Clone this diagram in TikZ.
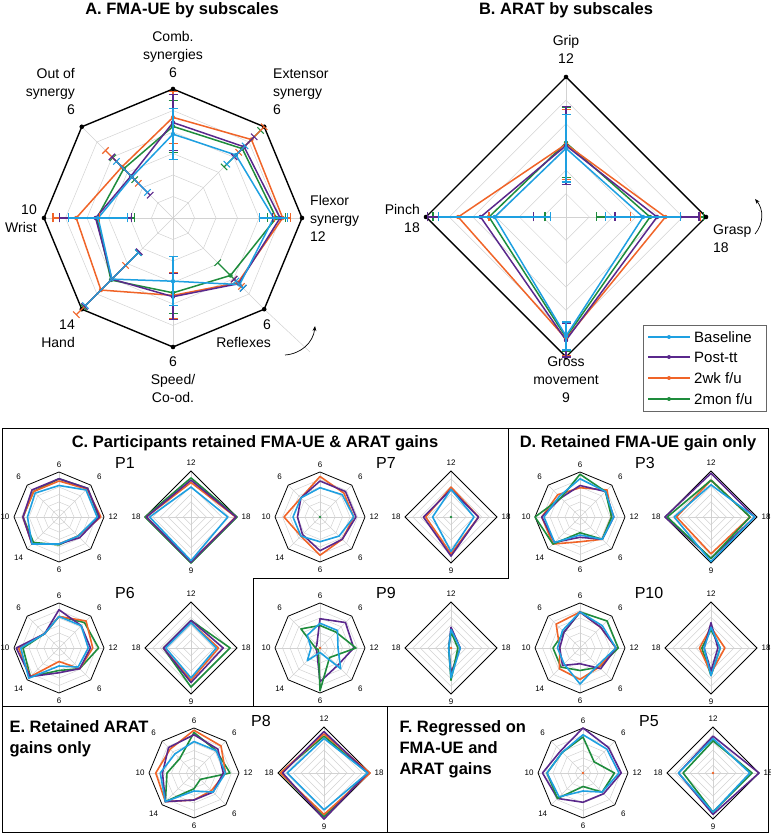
\documentclass[tikz,border=0pt]{standalone}
\usepackage{fontspec}
\setmainfont{Liberation Sans}
\usetikzlibrary{arrows.meta}
\definecolor{cB}{RGB}{30,160,225}
\definecolor{cP}{RGB}{90,40,140}
\definecolor{cO}{RGB}{240,100,40}
\definecolor{cG}{RGB}{30,140,60}
\tikzset{
  grid/.style={gray!35,line width=0.5pt},
  frame/.style={black,line width=0.8pt},
  series/.style={line width=1.5pt,line join=round},
  ttl/.style={font=\bfseries\fontsize{16.5}{21}\selectfont},
  lab/.style={font=\fontsize{14}{18}\selectfont,inner sep=0pt},
  sm/.style={font=\fontsize{8}{9}\selectfont,inner sep=0pt},
  pl/.style={font=\fontsize{16}{18}\selectfont,inner sep=0pt},
  box/.style={black,line width=0.8pt},
}
\newcommand\octpoly[5]{%
 \begin{scope}[shift={(#1,834-#2)}]
 \foreach \v [count=\i] in {#5}{\coordinate (q\i) at ({90-45*(\i-1)}:{\v*#3});}
 \draw[#4] (q1)--(q2)--(q3)--(q4)--(q5)--(q6)--(q7)--(q8)--cycle;
 \end{scope}}
\newcommand\diapoly[5]{%
 \begin{scope}[shift={(#1,834-#2)}]
 \foreach \v [count=\i] in {#5}{\coordinate (q\i) at ({90-90*(\i-1)}:{\v*#3});}
 \draw[#4] (q1)--(q2)--(q3)--(q4)--cycle;
 \end{scope}}
\newcommand\octgrid[4]{%
 \begin{scope}[shift={(#1,834-#2)}]
 \foreach \a in {0,45,...,315}{\draw[grid] (0,0)--(\a:#3);}
 \foreach \k in {1,...,5}{\draw[grid] (90:{#3*\k/6}) \foreach \a in {45,0,-45,-90,-135,180,135}{--(\a:{#3*\k/6})} --cycle;}
 \draw[black,line width=#4] (90:#3) \foreach \a in {45,0,-45,-90,-135,180,135}{--(\a:#3)} --cycle;
 \end{scope}}
\newcommand\diagrid[4]{%
 \begin{scope}[shift={(#1,834-#2)}]
 \foreach \a in {0,90,180,270}{\draw[grid] (0,0)--(\a:#3);}
 \foreach \k in {1,...,5}{\draw[grid] (90:{#3*\k/6})--(0:{#3*\k/6})--(-90:{#3*\k/6})--(180:{#3*\k/6})--cycle;}
 \draw[black,line width=#4] (90:#3)--(0:#3)--(-90:#3)--(180:#3)--cycle;
 \end{scope}}
\newcommand\octlab[3]{%
 \begin{scope}[shift={(#1,834-#2)}]
 \node[sm] (#3a) at (90:52) {6};
 \node[sm] (#3b) at (45:57) {6};
 \node[sm] (#3c) at (0:54) {12};
 \node[sm] (#3d) at (-45:57) {6};
 \node[sm] (#3e) at (-90:53) {6};
 \node[sm] (#3f) at (-135:57) {14};
 \node[sm] (#3g) at (180:54) {10};
 \node[sm] (#3h) at (135:57) {6};
 \end{scope}}
\newcommand\dialab[3]{%
 \begin{scope}[shift={(#1,834-#2)}]
 \node[sm] (#3a) at (90:54) {12};
 \node[sm] (#3b) at (0:55) {18};
 \node[sm] (#3c) at (-90:54) {9};
 \node[sm] (#3d) at (180:55) {18};
 \end{scope}}
\newcommand\ebar[7]{%
 \begin{scope}[shift={(#1,834-#2)}]
 \draw[#7,line width=1.1pt] (#4:{(#5-#6)*#3})--(#4:{(#5+#6)*#3});
 \draw[#7,line width=1.1pt] ([shift={(#4+90:4.5)}]#4:{(#5-#6)*#3})--([shift={(#4-90:4.5)}]#4:{(#5-#6)*#3});
 \draw[#7,line width=1.1pt] ([shift={(#4+90:4.5)}]#4:{(#5+#6)*#3})--([shift={(#4-90:4.5)}]#4:{(#5+#6)*#3});
 \end{scope}}
\newcommand\mdots[5]{%
 \begin{scope}[shift={(#1,834-#2)}]
 \foreach \v [count=\i] in {#5}{\fill[#4] ({90-#3*(\i-1)}:{\v*\Rr}) circle (2.2);}
 \end{scope}}
\begin{document}
\begin{tikzpicture}[x=1pt,y=1pt]
\useasboundingbox (0,0) rectangle (770,834);
% ---------------- A ----------------
\node[ttl] (tA) at (182,824) {A. FMA-UE by subscales};
\octgrid{173}{218}{129}{1.4pt}
\draw[grid] (173+91,834-309)--(310,834-352);
\begin{scope}[shift={(173,834-218)}]
\foreach \a in {0,45,...,315}{\fill (\a:129) circle (2.3);}
\end{scope}
\def\Rr{129}
\octpoly{173}{218}{129}{series,cG}{.71,.76,.80,.63,.58,.68,.59,.54}
\octpoly{173}{218}{129}{series,cO}{.78,.86,.85,.71,.60,.79,.75,.56}
\octpoly{173}{218}{129}{series,cP}{.74,.78,.83,.72,.61,.67,.60,.46}
\octpoly{173}{218}{129}{series,cB}{.65,.69,.78,.73,.49,.67,.58,.45}
\mdots{173}{218}{45}{cG}{.71,.76,.80,.63,.58,.68,.59,.54}
\mdots{173}{218}{45}{cO}{.78,.86,.85,.71,.60,.79,.75,.56}
\mdots{173}{218}{45}{cP}{.74,.78,.83,.72,.61,.67,.60,.46}
\mdots{173}{218}{45}{cB}{.65,.69,.78,.73,.49,.67,.58,.45}
\foreach \a/\v/\e/\c in {
 90/.71/.2/cG, 90/.78/.2/cO, 90/.74/.22/cP, 90/.65/.2/cB,
 45/.76/.2/cG, 45/.86/.14/cO, 45/.78/.11/cP, 45/.69/.1/cB,
 0/.80/.07/cG, 0/.85/.06/cO, 0/.83/.06/cP, 0/.78/.11/cB,
 -45/.63/.14/cG, -45/.71/.04/cO, -45/.72/.05/cP, -45/.73/.04/cB,
 -90/.58/.16/cG, -90/.60/.18/cO, -90/.61/.18/cP, -90/.49/.19/cB,
 -135/.68/.3/cG, -135/.79/.27/cO, -135/.67/.3/cP, -135/.67/.29/cB,
 180/.59/.29/cG, 180/.75/.18/cO, 180/.60/.28/cP, 180/.58/.23/cB,
 135/.54/.12/cG, 135/.56/.18/cO, 135/.46/.21/cP, 135/.45/.17/cB}
 {\ebar{173}{218}{129}{\a}{\v}{\e}{\c}}
\node[lab,align=center] (aComb) at (173,834-55) {Comb.\\synergies\\6};
\node[lab,align=left,anchor=west] (aExt) at (273,834-92) {Extensor\\synergy\\6};
\node[lab,align=right,anchor=east] (aOut) at (75,834-92) {Out of\\synergy\\6};
\node[lab,align=left,anchor=west] (aFlex) at (310,834-218) {Flexor\\synergy\\12};
\node[lab,align=right,anchor=east] (aWr) at (37,834-219) {10\\Wrist};
\node[lab,align=right,anchor=east] (aHa) at (75,834-334) {14\\Hand};
\node[lab,align=right,anchor=east] (aRe) at (271,834-334) {6\\Reflexes};
\node[lab,align=center] (aSp) at (173,834-380) {6\\Speed/\\Co-od.};
\coordinate (arA1) at (285,834-355);
\coordinate (arA2) at (315,834-326);
\draw[-{Stealth[length=5pt]},line width=0.7pt] (arA1) to[bend right=40] (arA2);
% ---------------- B ----------------
\node[ttl] (tB) at (566,824) {B. ARAT by subscales};
\diagrid{566}{217}{140}{1.4pt}
\begin{scope}[shift={(566,834-217)}]
\foreach \a in {0,90,180,270}{\fill (\a:140) circle (2.3);}
\end{scope}
\def\Rr{140}
\diapoly{566}{217}{140}{series,cG}{.53,.60,.86,.55}
\diapoly{566}{217}{140}{series,cO}{.52,.71,.87,.77}
\diapoly{566}{217}{140}{series,cP}{.51,.65,.88,.61}
\diapoly{566}{217}{140}{series,cB}{.49,.55,.85,.51}
\mdots{566}{217}{90}{cG}{.53,.60,.86,.55}
\mdots{566}{217}{90}{cO}{.52,.71,.87,.77}
\mdots{566}{217}{90}{cP}{.51,.65,.88,.61}
\mdots{566}{217}{90}{cB}{.49,.55,.85,.51}
\foreach \a/\v/\e/\c in {
 90/.53/.25/cG, 90/.52/.25/cO, 90/.51/.28/cP, 90/.49/.24/cB,
 0/.60/.38/cG, 0/.71/.25/cO, 0/.65/.3/cP, 0/.55/.27/cB,
 -90/.86/.1/cG, -90/.87/.12/cO, -90/.88/.12/cP, -90/.85/.1/cB,
 180/.55/.4/cG, 180/.77/.22/cO, 180/.61/.38/cP, 180/.51/.4/cB}
 {\ebar{566}{217}{140}{\a}{\v}{\e}{\c}}
\node[lab,align=center] (bGrip) at (566,834-49) {Grip\\12};
\node[lab,align=left,anchor=west] (bGr) at (713,834-239) {Grasp\\18};
\node[lab,align=right,anchor=east] (bPi) at (420,834-219) {Pinch\\18};
\node[lab,align=center] (bGm) at (566,834-380) {Gross\\movement\\9};
\coordinate (arB1) at (755,834-234);
\coordinate (arB2) at (755,834-199);
\draw[-{Stealth[length=5pt]},line width=0.7pt] (arB1) to[bend right=40] (arB2);
\draw[line width=0.8pt,draw=gray!80!black,fill=white] (643,834-325) rectangle (766,834-411);
\foreach \y/\c/\t [count=\i] in {337/cB/{Baseline},357/cP/{Post-tt},378/cO/{2wk f/u},399/cG/{2mon f/u}}{
 \draw[\c,line width=1.2pt] (648,834-\y)--(690,834-\y);
 \fill[\c] (669,834-\y) circle (2);
 \node[anchor=west,inner sep=0pt,font=\fontsize{15}{16}\selectfont] (lg\i) at (694,834-\y) {\t};}
% ---------------- lower frames ----------------
\draw[box] (2,834-428) rectangle (768,834-832);
\draw[box] (508,834-428)--(508,834-578)--(253,834-578)--(253,834-706);
\draw[box] (2,834-706)--(768,834-706);
\draw[box] (387,834-706)--(387,834-832);
\node[ttl] (tC) at (255,834-443) {C. Participants retained FMA-UE \& ARAT gains};
\node[ttl] (tD) at (638,834-443) {D. Retained FMA-UE gain only};
\node[ttl,align=left,anchor=north west] (tE) at (6,834-717) {E. Retained ARAT\\gains only};
\node[ttl,align=left,anchor=north west] (tF) at (396,834-717) {F. Regressed on\\FMA-UE and\\ARAT gains};
\foreach \n/\x/\y in {P1/125/463,P7/386/463,P3/645/463,P6/125/593,P9/386/593,P10/649/593,P8/261/721,P5/649/721}
 {\node[pl] (lab\n) at (\x,834-\y) {\n};}
\foreach \x/\y/\nm in {59/517/g1,320/517/g2,580/517/g3,59/648/g4,320/648/g5,580/648/g6,194/773/g7,583/773/g8}
 {\octgrid{\x}{\y}{45}{0.8pt}\octlab{\x}{\y}{\nm}}
\foreach \x/\y/\nm in {191/517/h1,451/517/h2,711/517/h3,191/648/h4,451/648/h5,711/648/h6,324/773/h7,713/773/h8}
 {\diagrid{\x}{\y}{46}{0.8pt}\dialab{\x}{\y}{\nm}}
\tikzset{s/.style={line width=1.6pt,line join=round}}
% P1
\octpoly{59}{517}{45}{s,cG}{.85,.9,.88,.6,.62,.8,.8,.8}
\octpoly{59}{517}{45}{s,cO}{.8,.88,.93,.6,.6,.85,.8,.8}
\octpoly{59}{517}{45}{s,cP}{.85,.9,.9,.65,.6,.85,.8,.85}
\octpoly{59}{517}{45}{s,cB}{.7,.85,.85,.6,.6,.85,.7,.75}
\diapoly{191}{517}{46}{s,cG}{.85,1,1,1}
\diapoly{191}{517}{46}{s,cO}{.75,.97,.97,.97}
\diapoly{191}{517}{46}{s,cP}{.8,.98,.98,.97}
\diapoly{191}{517}{46}{s,cB}{.65,.8,.95,.9}
% P7
\octpoly{320}{517}{45}{s,cO}{.9,.75,.75,.7,.85,.6,.8,.6}
\octpoly{320}{517}{45}{s,cP}{.8,.8,.8,.7,.75,.55,.5,.6}
\octpoly{320}{517}{45}{s,cB}{.65,.7,.75,.6,.55,.6,.6,.6}
\fill[cG] (320,834-517) circle (1.3);
\diapoly{451}{517}{46}{s,cO}{.65,.6,.8,.55}
\diapoly{451}{517}{46}{s,cP}{.6,.6,.85,.6}
\diapoly{451}{517}{46}{s,cB}{.6,.5,.75,.4}
\fill[cG] (451,834-517) circle (1.3);
% P3
\octpoly{580}{517}{45}{s,cO}{.65,.85,.7,.7,.55,.85,.85,.7}
\octpoly{580}{517}{45}{s,cP}{.7,.8,.75,.7,.45,.8,.85,.6}
\octpoly{580}{517}{45}{s,cG}{.95,.8,.7,.7,.35,.85,1,.6}
\octpoly{580}{517}{45}{s,cB}{.85,.8,.75,.7,.4,.8,.8,.65}
\diapoly{711}{517}{46}{s,cO}{.8,.85,.8,.75}
\diapoly{711}{517}{46}{s,cP}{.95,.95,.9,1}
\diapoly{711}{517}{46}{s,cG}{.8,.85,.9,.95}
\diapoly{711}{517}{46}{s,cB}{.7,.95,.97,.8}
% P6
\octpoly{59}{648}{45}{s,cG}{.7,.8,.88,.65,.5,.9,.8,.45}
\octpoly{59}{648}{45}{s,cO}{.7,.85,.75,.65,.3,.9,.9,.45}
\octpoly{59}{648}{45}{s,cP}{.85,.7,.7,.65,.55,.9,.95,.45}
\octpoly{59}{648}{45}{s,cB}{.7,.7,.65,.6,.4,.95,.85,.45}
\diapoly{191}{648}{46}{s,cG}{.6,.85,.85,.6}
\diapoly{191}{648}{46}{s,cO}{.55,.6,.7,.6}
\diapoly{191}{648}{46}{s,cP}{.6,.7,.75,.6}
\diapoly{191}{648}{46}{s,cB}{.55,.55,.65,.55}
% P9
\octpoly{320}{648}{45}{s,cP}{.65,.8,.75,.55,.75,.1,.1,.1}
\octpoly{320}{648}{45}{s,cG}{.5,.5,.8,.3,.95,.05,.1,.6}
\octpoly{320}{648}{45}{s,cB}{.55,.55,.4,.65,.1,.4,.2,.4}
\fill[cO] (320,834-648) circle (1.3);
\diapoly{451}{648}{46}{s,cP}{.45,.2,.55,.05}
\diapoly{451}{648}{46}{s,cG}{.35,.15,.7,.05}
\diapoly{451}{648}{46}{s,cB}{.4,.2,.65,.05}
\fill[cO] (451,834-648) circle (1.3);
% P10
\octpoly{580}{648}{45}{s,cG}{.8,.85,.85,.6,.5,.6,.6,.5}
\octpoly{580}{648}{45}{s,cO}{.8,.65,.8,.6,.7,.65,.45,.75}
\octpoly{580}{648}{45}{s,cP}{.8,.65,.8,.65,.35,.55,.45,.5}
\octpoly{580}{648}{45}{s,cB}{.8,.7,.8,.55,.8,.5,.5,.55}
\diapoly{711}{648}{46}{s,cG}{.4,.2,.6,.2}
\diapoly{711}{648}{46}{s,cO}{.45,.3,.55,.25}
\diapoly{711}{648}{46}{s,cP}{.55,.15,.5,.15}
\diapoly{711}{648}{46}{s,cB}{.45,.2,.6,.15}
% P8
\octpoly{194}{773}{45}{s,cG}{.9,.7,.8,.2,.35,.9,.6,.45}
\octpoly{194}{773}{45}{s,cO}{.95,.85,.7,.55,.6,.9,.85,.75}
\octpoly{194}{773}{45}{s,cP}{.85,.75,.65,.6,.6,.9,.7,.8}
\octpoly{194}{773}{45}{s,cB}{.7,.7,.7,.6,.4,.9,.75,.6}
\diapoly{324}{773}{46}{s,cG}{.8,.95,.95,.95}
\diapoly{324}{773}{46}{s,cO}{.85,1,.9,.95}
\diapoly{324}{773}{46}{s,cP}{.9,.95,1,.9}
\diapoly{324}{773}{46}{s,cB}{.75,.95,.8,.8}
% P5
\octpoly{583}{773}{45}{s,cP}{1,.8,.85,.65,.65,.8,.9,.7}
\octpoly{583}{773}{45}{s,cG}{.8,.35,.7,.6,.3,.8,.8,.65}
\octpoly{583}{773}{45}{s,cB}{.85,.75,.8,.6,.4,.75,.8,.65}
\fill[cO] (583,834-773) circle (1.3);
\diapoly{713}{773}{46}{s,cP}{.8,1,.9,.75}
\diapoly{713}{773}{46}{s,cG}{.7,.85,.85,.65}
\diapoly{713}{773}{46}{s,cB}{.75,.8,.85,.75}
\fill[cO] (713,834-773) circle (1.3);
\end{tikzpicture}
\end{document}
